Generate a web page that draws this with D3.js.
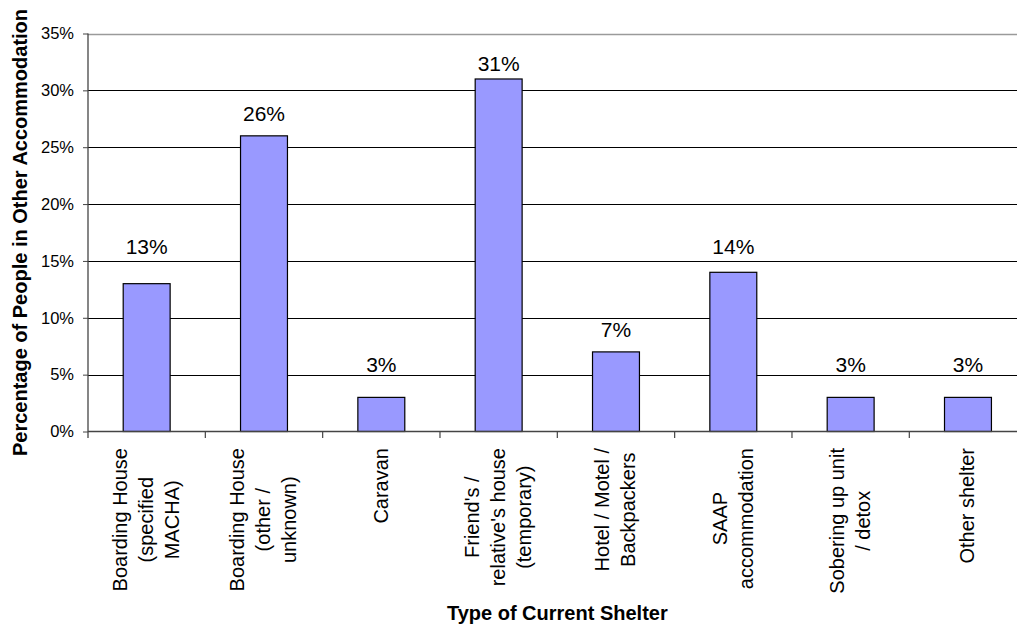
<!DOCTYPE html>
<html>
<head>
<meta charset="utf-8">
<script src="https://cdn.jsdelivr.net/npm/d3@7"></script>
<style>
  html, body { margin: 0; padding: 0; background: #fff; }
  svg { display: block; font-family: Arial, "Liberation Sans", sans-serif; }
</style>
</head>
<body>
<svg id="chart" width="1017" height="626"></svg>
<script>
// ---- data ----
const categories = [
  ["Boarding House", "(specified", "MACHA)"],
  ["Boarding House", "(other /", "unknown)"],
  ["Caravan"],
  ["Friend's /", "relative's house", "(temporary)"],
  ["Hotel / Motel /", "Backpackers"],
  ["SAAP", "accommodation"],
  ["Sobering up unit", "/ detox"],
  ["Other shelter"]
];
const values = [0.13, 0.26, 0.03, 0.31, 0.07, 0.14, 0.03, 0.03];
const yTicks = [0, 0.05, 0.10, 0.15, 0.20, 0.25, 0.30, 0.35];
const yTitle = "Percentage of People in Other Accommodation";
const xTitle = "Type of Current Shelter";

// ---- layout ----
const labelGap = [30, 15, 25, 8, 15, 18, 25, 25];
const plotLeft = 88, plotTop = 33.5, plotBottom = 431.5, step = 117.33;
const keys = categories.map((c, i) => i);

const svg = d3.select("#chart");

const x = d3.scaleBand().domain(keys).range([plotLeft, plotLeft + step * keys.length]).padding(0);
const y = d3.scaleLinear().domain([0, 0.35]).range([plotBottom, plotTop]);
const bw = x.bandwidth() * 0.4;
const plotRight = plotLeft + step * keys.length;

// gridlines
svg.append("g").selectAll("line").data(yTicks.filter(t => t > 0)).join("line")
  .attr("x1", plotLeft).attr("x2", plotRight)
  .attr("y1", d => Math.round(y(d)) + 0.5).attr("y2", d => Math.round(y(d)) + 0.5)
  .attr("stroke", d => d === 0.35 ? "#9a9a9a" : "#000")
  .attr("stroke-width", d => d === 0.35 ? 1.5 : 1);

// bars
svg.append("g").selectAll("rect").data(values).join("rect")
  .attr("x", (d, i) => x(i) + (x.bandwidth() - bw) / 2)
  .attr("y", d => y(d))
  .attr("width", bw)
  .attr("height", d => y(0) - y(d))
  .attr("fill", "#9999ff")
  .attr("stroke", "#000")
  .attr("stroke-width", 1.2);

// y axis
const yAxis = d3.axisLeft(y).tickValues(yTicks).tickFormat(d3.format(".0%")).tickSizeOuter(0).tickSize(5).tickPadding(9);
const gy = svg.append("g").attr("transform", `translate(${plotLeft},0)`).call(yAxis);
gy.select(".domain").remove();
gy.selectAll(".tick line").attr("stroke", "#444");
gy.selectAll(".tick text").attr("font-size", "16.5px").attr("fill", "#000")
  .attr("font-family", "Arial, 'Liberation Sans', sans-serif");
svg.append("line").attr("x1", plotLeft).attr("x2", plotLeft).attr("y1", plotTop).attr("y2", plotBottom + 6.5)
  .attr("stroke", "#444").attr("stroke-width", 1.3);

// x axis
svg.append("line").attr("x1", plotLeft).attr("x2", plotRight).attr("y1", plotBottom).attr("y2", plotBottom)
  .attr("stroke", "#444").attr("stroke-width", 1.3);
svg.append("g").selectAll("line").data(keys.slice(1)).join("line")
  .attr("x1", d => x(d)).attr("x2", d => x(d))
  .attr("y1", plotBottom).attr("y2", plotBottom + 6.5)
  .attr("stroke", "#444").attr("stroke-width", 1.2);

// value labels
svg.append("g").selectAll("text").data(values).join("text")
  .attr("x", (d, i) => x(i) + x.bandwidth() / 2)
  .attr("y", (d, i) => y(d) - labelGap[i])
  .attr("text-anchor", "middle")
  .attr("font-size", "21px")
  .text(d => d3.format(".0%")(d));

// category labels
const lh = 26;
categories.forEach((lines, i) => {
  const cx = x(i) + x.bandwidth() / 2;
  const g = svg.append("g").attr("transform", `translate(${cx},448) rotate(-90)`);
  const ts = g.selectAll("text").data(lines).join("text")
    .attr("font-size", "20px")
    .attr("text-anchor", "middle")
    .attr("y", (d, j) => (j - (lines.length - 1) / 2) * lh + 6.5)
    .text(d => d);
  let maxW = 0;
  ts.each(function () { maxW = Math.max(maxW, this.getComputedTextLength()); });
  ts.attr("x", -maxW / 2);
});

// axis titles
svg.append("text")
  .attr("transform", `translate(26.5,${(plotTop + plotBottom) / 2}) rotate(-90)`)
  .attr("text-anchor", "middle").attr("font-size", "20px").attr("font-weight", "bold")
  .text(yTitle);
svg.append("text")
  .attr("x", plotLeft + step * keys.length / 2).attr("y", 620)
  .attr("text-anchor", "middle").attr("font-size", "20px").attr("font-weight", "bold")
  .text(xTitle);
</script>
</body>
</html>
